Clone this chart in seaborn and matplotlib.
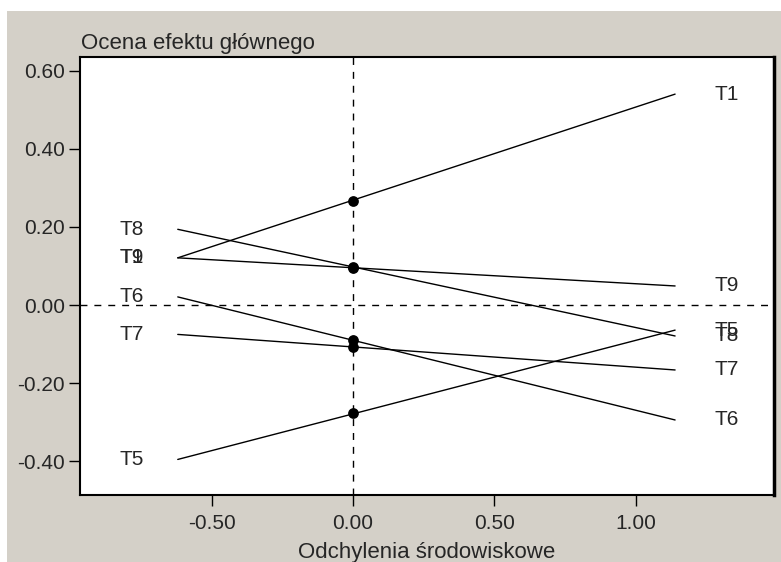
import numpy as np
import pandas as pd
import matplotlib
matplotlib.use("Agg")
import matplotlib.pyplot as plt
from matplotlib.patches import Rectangle
import seaborn as sns

# values
genotypes = ["T1", "T9", "T8", "T6", "T7", "T5"]
env_low = -0.62
env_high = 1.14
left_vals = [0.121, 0.121, 0.194, 0.021, -0.075, -0.395]
mean_vals = [0.266, 0.096, 0.098, -0.090, -0.107, -0.276]
right_vals = [0.540, 0.049, -0.079, -0.294, -0.166, -0.064]

x_ticks = [-0.5, 0.0, 0.5, 1.0]
y_ticks = [-0.4, -0.2, 0.0, 0.2, 0.4, 0.6]

title_txt = "Ocena efektu głównego"
xlabel_txt = "Odchylenia środowiskowe"

bg = "#d4d0c8"

sns.set_style("white")
plt.rcParams["font.family"] = ["Liberation Sans", "DejaVu Sans"]
plt.rcParams["font.size"] = 15

lines = pd.DataFrame({
    "genotype": genotypes * 2,
    "env": [env_low] * len(genotypes) + [env_high] * len(genotypes),
    "value": left_vals + right_vals,
})
means = pd.DataFrame({"genotype": genotypes, "env": 0.0, "value": mean_vals})

fig = plt.figure(figsize=(7.81, 5.62), dpi=100)
fig.patch.set_facecolor("white")
fig.patches.append(Rectangle((7 / 781, 0), 1, 1 - 11 / 562, transform=fig.transFigure,
                             facecolor=bg, edgecolor="none", zorder=-10))
ax = fig.add_axes([80 / 781, 1 - 495 / 562, (774 - 80) / 781, (495 - 57) / 562])
ax.set_facecolor("white")

ax.axvline(0, color="black", lw=1, ls=(0, (5, 5)), zorder=1)
ax.axhline(0, color="black", lw=1, ls=(0, (5, 5)), zorder=1)

sns.lineplot(data=lines, x="env", y="value", units="genotype", estimator=None,
             color="black", lw=1, ax=ax, zorder=2)
sns.scatterplot(data=means, x="env", y="value", color="black", s=60,
                edgecolor="black", linewidth=0, ax=ax, zorder=3)

for g, lv, rv in zip(genotypes, left_vals, right_vals):
    ax.text(-0.825, lv, g, ha="left", va="center", fontsize=15)
    ax.text(1.28, rv, g, ha="left", va="center", fontsize=15)

ax.set_xlim(-0.966, 1.49)
ax.set_ylim(-0.486, 0.635)
ax.set_xticks(x_ticks)
ax.set_xticklabels([f"{v:.2f}" for v in x_ticks])
ax.set_yticks(y_ticks)
ax.set_yticklabels([f"{v:.2f}" for v in y_ticks])
ax.tick_params(direction="out", length=8, width=1, color="black", labelsize=15,
               left=True, bottom=True, pad=3)
ax.tick_params(axis="x", pad=6)
for s in ax.spines.values():
    s.set_color("black")
    s.set_linewidth(1.5)
ax.spines["right"].set_linewidth(2.5)

ax.set_xlabel(xlabel_txt, fontsize=16, labelpad=6)
ax.set_ylabel("")
ax.text(0.002, 1.006, title_txt, transform=ax.transAxes, ha="left", va="bottom", fontsize=16)

fig.savefig("out.png", dpi=100, facecolor=fig.get_facecolor())
